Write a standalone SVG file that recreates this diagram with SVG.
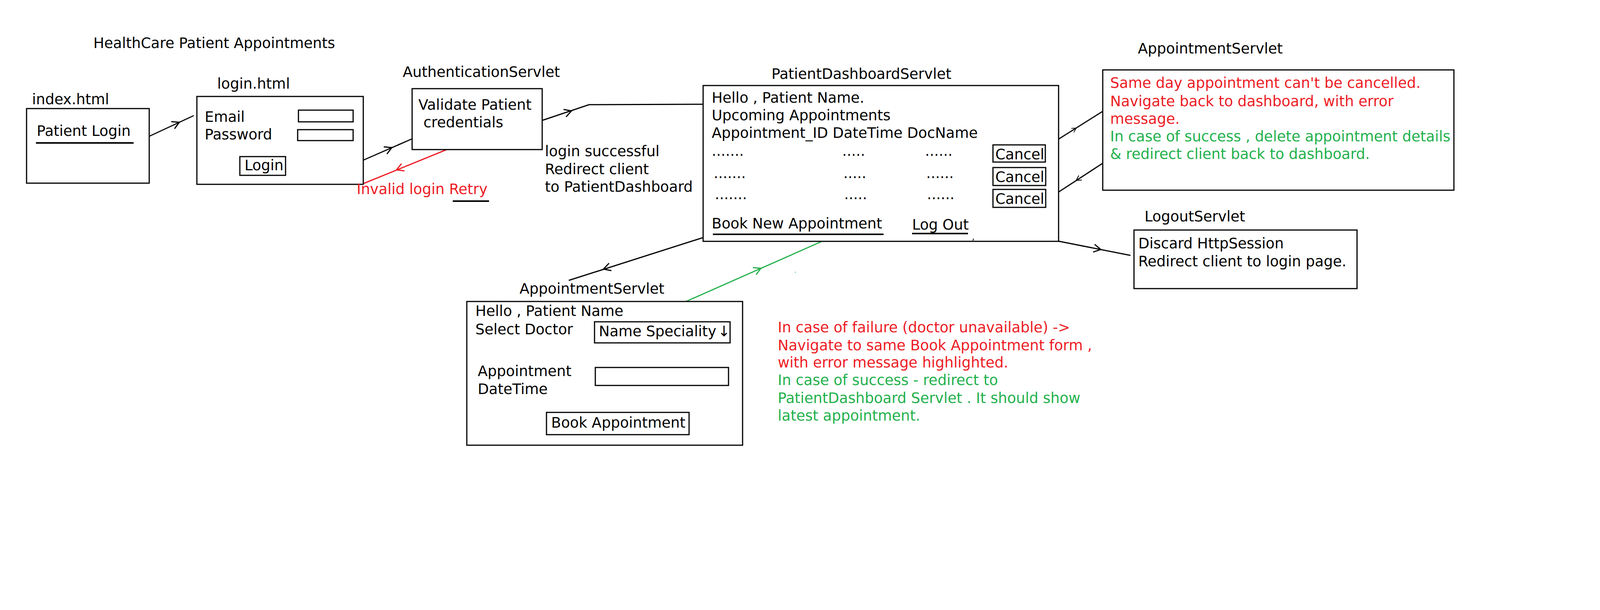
<svg xmlns="http://www.w3.org/2000/svg" width="4308" height="1562" viewBox="0 0 4308 1562">
<style>
.t{font-family:"DejaVu Sans","Verdana",sans-serif;font-size:37px;fill:#000}
.r{fill:#ed1c24}
.g{fill:#22b14c}
.box{fill:#fff;stroke:#000;stroke-width:3}
.ln{fill:none;stroke:#000;stroke-width:3}
.lr{stroke:#ed1c24}
.lg{stroke:#22b14c}
.ul{stroke:#000;stroke-width:4}
</style>
<defs>
<path id="chev" d="M -18 -10 L 0 0 L -18 10" fill="none" stroke-width="3"/>
</defs>
<rect x="0" y="0" width="4308" height="1562" fill="#fff"/>
<text class="t" x="239" y="123">HealthCare Patient Appointments</text>

<g id="connectors">
<path class="ln" d="M 352 363 L 496 296"/>
<use href="#chev" stroke="#000" transform="translate(459,313) rotate(-24.9)"/>
<path class="ln" d="M 928 411 L 1056 355"/>
<use href="#chev" stroke="#000" transform="translate(1003,378) rotate(-23.6)"/>
<path class="ln" d="M 1389 308 L 1508 268 L 1800 267"/>
<use href="#chev" stroke="#000" transform="translate(1463,284) rotate(-18.6)"/>
<path class="ln lr" d="M 1146 382 L 928 471"/>
<use href="#chev" stroke="#ed1c24" transform="translate(1015,435) rotate(157.8)"/>
<path class="ln" d="M 1826 600 L 1456 718"/>
<use href="#chev" stroke="#000" transform="translate(1545,689) rotate(162.3)"/>
<path class="ln lg" d="M 1756 772 L 2102 619"/>
<use href="#chev" stroke="#22b14c" transform="translate(1948,687) rotate(-23.9)"/>
<path class="ln" d="M 2677 377 L 2823 285"/>
<use href="#chev" stroke="#000" transform="translate(2755,328) rotate(-32.2) scale(0.6)"/>
<path class="ln" d="M 2823 418 L 2708 493"/>
<use href="#chev" stroke="#000" transform="translate(2755,462) rotate(146.9) scale(0.7)"/>
<path class="ln" d="M 2495 575 L 2894 654"/>
<use href="#chev" stroke="#000" transform="translate(2818,639) rotate(11.2)"/>
</g>

<g id="index">
<text class="t" x="82" y="267">index.html</text>
<rect class="box" x="68" y="278" width="314" height="191"/>
<text class="t" x="94" y="348">Patient Login</text>
<line class="ul" x1="92" y1="366" x2="342" y2="366" stroke-width="5"/>
</g>

<g id="login">
<text class="t" x="556" y="227">login.html</text>
<rect class="box" x="504" y="247" width="426" height="225"/>
<text class="t" x="524" y="312">Email</text>
<rect class="box" x="764" y="282" width="140" height="30"/>
<text class="t" x="524" y="357">Password</text>
<rect class="box" x="762" y="332" width="142" height="28"/>
<rect class="box" x="614" y="401" width="117" height="48"/>
<text class="t" x="626" y="436">Login</text>
</g>

<g id="auth">
<text class="t" x="1031" y="197">AuthenticationServlet</text>
<rect class="box" x="1055" y="227" width="333" height="156"/>
<text class="t" x="1071" y="281">Validate Patient</text>
<text class="t" x="1084" y="326">credentials</text>
</g>

<g id="invalid">
<text class="t r" x="913" y="497">Invalid login Retry</text>
<line class="ul" x1="1159" y1="515" x2="1252" y2="515"/>
</g>

<g id="success">
<text class="t" x="1395" y="400">login successful</text>
<text class="t" x="1395" y="446">Redirect client</text>
<text class="t" x="1395" y="491">to PatientDashboard</text>
</g>

<g id="dashboard">
<text class="t" x="1975" y="202">PatientDashboardServlet</text>
<rect class="box" x="1800" y="219" width="910" height="399"/>
<text class="t" x="1822" y="263">Hello , Patient Name.</text>
<text class="t" x="1822" y="308">Upcoming Appointments</text>
<text class="t" x="1822" y="353">Appointment_ID DateTime DocName</text>
<text class="t" x="1822" y="399">.......</text>
<text class="t" x="2156" y="399">.....</text>
<text class="t" x="2368" y="399">......</text>
<text class="t" x="1827" y="456">.......</text>
<text class="t" x="2159" y="456">.....</text>
<text class="t" x="2371" y="456">......</text>
<text class="t" x="1830" y="510">.......</text>
<text class="t" x="2161" y="510">.....</text>
<text class="t" x="2373" y="510">......</text>
<rect class="box" x="2542" y="371" width="134" height="44"/>
<text class="t" x="2548" y="408">Cancel</text>
<rect class="box" x="2542" y="429" width="135" height="46"/>
<text class="t" x="2548" y="466">Cancel</text>
<rect class="box" x="2542" y="485" width="135" height="46"/>
<text class="t" x="2548" y="522">Cancel</text>
<text class="t" x="1822" y="585">Book New Appointment</text>
<line class="ul" x1="1825" y1="600" x2="2262" y2="600"/>
<text class="t" x="2335" y="588">Log Out</text>
<line class="ul" x1="2335" y1="598" x2="2478" y2="598"/>
<line x1="2492" y1="611" x2="2491" y2="616" stroke="#000" stroke-width="2"/>
</g>

<g id="cancel-servlet">
<text class="t" x="2913" y="137">AppointmentServlet</text>
<rect class="box" x="2823" y="179" width="899" height="308"/>
<text class="t r" x="2842" y="225">Same day appointment can't be cancelled.</text>
<text class="t r" x="2842" y="272">Navigate back to dashboard, with error</text>
<text class="t r" x="2842" y="317">message.</text>
<text class="t g" x="2842" y="362">In case of success , delete appointment details</text>
<text class="t g" x="2842" y="407">&amp; redirect client back to dashboard.</text>
</g>

<g id="logout">
<text class="t" x="2930" y="567">LogoutServlet</text>
<rect class="box" x="2903" y="589" width="571" height="150"/>
<text class="t" x="2914" y="636">Discard HttpSession</text>
<text class="t" x="2914" y="682">Redirect client to login page.</text>
</g>

<g id="book">
<text class="t" x="1330" y="752">AppointmentServlet</text>
<rect class="box" x="1195" y="772" width="706" height="368"/>
<text class="t" x="1217" y="809">Hello , Patient Name</text>
<text class="t" x="1217" y="856">Select Doctor</text>
<rect class="box" x="1522" y="824" width="347" height="54"/>
<text class="t" x="1533" y="861">Name Speciality <tspan x="1838">↓</tspan></text>
<text class="t" x="1223" y="963">Appointment</text>
<text class="t" x="1223" y="1009">DateTime</text>
<rect class="box" x="1524" y="941" width="341" height="46"/>
<rect class="box" x="1399" y="1056" width="365" height="57"/>
<text class="t" x="1411" y="1095">Book Appointment</text>
</g>

<g id="book-notes">
<text class="t r" x="1991" y="851">In case of failure (doctor unavailable) -&gt;</text>
<text class="t r" x="1991" y="897">Navigate to same Book Appointment form ,</text>
<text class="t r" x="1991" y="941">with error message highlighted.</text>
<text class="t g" x="1991" y="986">In case of success - redirect to</text>
<text class="t g" x="1991" y="1032">PatientDashboard Servlet . It should show</text>
<text class="t g" x="1991" y="1077">latest appointment.</text>
<rect x="2035" y="696" width="2" height="2" fill="#22b14c"/>
</g>
</svg>
